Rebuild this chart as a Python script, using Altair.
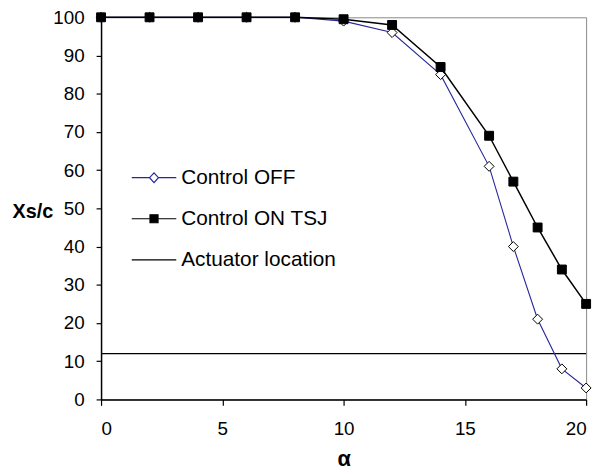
import altair as alt
import pandas as pd

# ---- data ----
alpha = [0, 2, 4, 6, 8, 10, 12, 14, 16, 17, 18, 19, 20]
control_off = [100, 100, 100, 100, 100, 99, 96, 85, 61, 40, 21, 8, 3]
control_on = [100, 100, 100, 100, 100, 99.5, 98, 87, 69, 57, 45, 34, 25]
actuator_location = [12]
series_names = ["Control OFF", "Control ON TSJ", "Actuator location"]
x_ticks = [0, 5, 10, 15, 20]
y_ticks = [0, 10, 20, 30, 40, 50, 60, 70, 80, 90, 100]

FONT = "Liberation Sans"
BLUE = "#26269c"

df = pd.DataFrame({
    "alpha": alpha * 2,
    "value": control_off + control_on,
    "series": [series_names[0]] * len(alpha) + [series_names[1]] * len(alpha),
})
act_df = pd.DataFrame({"y": actuator_location})
leg_df = pd.DataFrame({"series": series_names})

X_SCALE = alt.Scale(domain=[0, 20], nice=False)
Y_SCALE = alt.Scale(domain=[0, 100], nice=False)
X_AXIS = alt.Axis(values=x_ticks, title="α", grid=False, labelOverlap=False,
                  tickSize=6, labelPadding=14, titleFontSize=22,
                  titleFontWeight="bold", titleY=60, titleBaseline="middle")
Y_AXIS = alt.Axis(values=y_ticks, title="Xs/c", grid=False, labelOverlap=False,
                  tickSize=5, labelPadding=12, titleAngle=0,
                  titleAlign="left", titleBaseline="middle",
                  titleX=-90, titleY=196, titleFontSize=20,
                  titleFontWeight="bold")

def xe(field):
    return alt.X(field, scale=X_SCALE, axis=X_AXIS)

def ye(field):
    return alt.Y(field, scale=Y_SCALE, axis=Y_AXIS)

rule = alt.Chart(act_df).mark_rule(color="black", strokeWidth=1.2).encode(
    y=ye("y:Q")
)

lines = alt.Chart(df).mark_line().encode(
    x=xe("alpha:Q"), y=ye("value:Q"),
    color=alt.Color("series:N", scale=alt.Scale(domain=series_names[:2], range=[BLUE, "black"]), legend=None),
    strokeWidth=alt.StrokeWidth("series:N", scale=alt.Scale(domain=series_names[:2], range=[1.1, 1.5]), legend=None),
)

pts_off = alt.Chart(df).transform_filter(alt.datum.series == series_names[0]).mark_point(
    shape="diamond", size=100, fill="white", stroke="black", strokeWidth=1, opacity=1
).encode(x=xe("alpha:Q"), y=ye("value:Q"))

pts_on = alt.Chart(df).transform_filter(alt.datum.series == series_names[1]).mark_point(
    shape="square", size=81, fill="black", stroke="black", strokeWidth=1, opacity=1, filled=True
).encode(x=xe("alpha:Q"), y=ye("value:Q"))

leg_paths = [
    "M-1,0L-0.2,0M0.2,0L1,0M0,-0.22L0.2,0L0,0.22L-0.2,0Z",
    "M-1,0L1,0M-0.18,-0.18L0.18,-0.18L0.18,0.18L-0.18,0.18Z",
    "M-1,0L1,0",
]
legend_layer = alt.Chart(leg_df).mark_point(opacity=0).encode(
    shape=alt.Shape("series:N", scale=alt.Scale(domain=series_names, range=leg_paths),
                    legend=alt.Legend(title=None, orient="none", legendX=30, legendY=138.5,
                                      symbolSize=2025, symbolStrokeWidth=1.2,
                                      symbolOpacity=1, labelFontSize=21, labelFont=FONT,
                                      labelColor="black", labelOffset=4, padding=0,
                                      rowPadding=7.5, symbolOffset=0)),
    stroke=alt.Stroke("series:N", scale=alt.Scale(domain=series_names, range=[BLUE, "black", "black"])),
    fill=alt.Fill("series:N", scale=alt.Scale(domain=series_names, range=["white", "black", "black"])),
)

chart = alt.layer(rule, lines, pts_off, pts_on, legend_layer).properties(
    width=490, height=386,
    autosize=alt.AutoSizeParams(type="none"),
    padding={"left": 94, "top": 7, "right": 12, "bottom": 80},
    background="white",
).configure_view(stroke="#888888", strokeWidth=1).configure_axis(
    domainColor="black", domainWidth=1.5, tickColor="black", tickWidth=1.2,
    labelFont=FONT, labelFontSize=19, labelColor="black",
    titleFont=FONT, titleColor="black",
)

chart.save("out.html", embed_options={"renderer": "svg", "actions": False})
